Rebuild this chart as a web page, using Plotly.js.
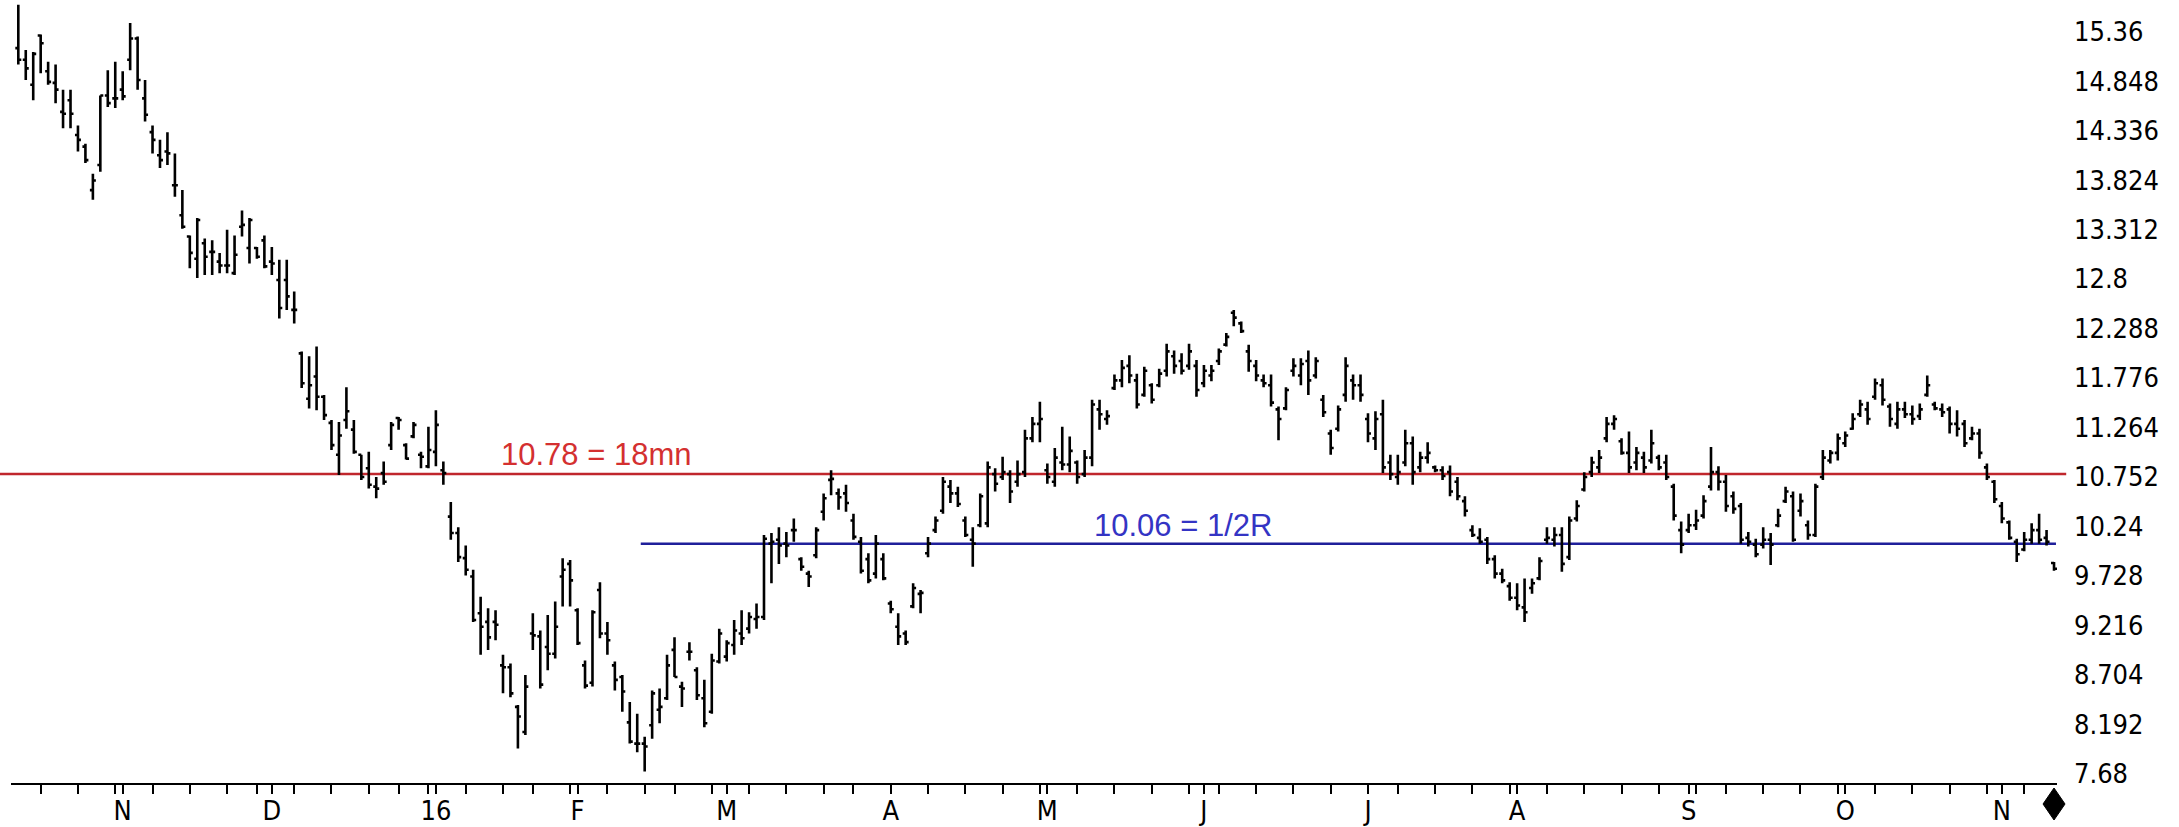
<!DOCTYPE html>
<html><head><meta charset="utf-8">
<script src="https://cdn.plot.ly/plotly-3.0.1.min.js"></script>
<style>html,body{margin:0;padding:0;background:#fff}#chart{width:2179px;height:827px}</style>
</head><body><div id="chart"></div>
<script>
// ---- data ----
const startDate = '2015-10-13';
const holidays = ['2015-11-26','2015-12-25','2016-01-01','2016-01-18','2016-02-15','2016-03-25','2016-05-30','2016-07-04','2016-09-05'];
const monthLabels = ['N','D','16','F','M','A','M','J','J','A','S','O','N'];
const priceTicks = ['7.68','8.192','8.704','9.216','9.728','10.24','10.752','11.264','11.776','12.288','12.8','13.312','13.824','14.336','14.848','15.36'];

const openP = [
15.19,15.07,14.81,15.32,14.95,14.83,14.53,14.65,14.29,14.17,13.72,13.98,14.70,14.67,14.76,15.07,15.29,14.67,14.32,14.08,
14.12,13.77,13.46,13.24,13.01,13.17,13.08,12.98,12.94,12.86,13.34,13.12,13.12,13.20,12.98,12.79,12.79,12.48,
12.03,11.56,11.79,11.58,11.31,10.98,11.34,11.24,10.98,10.84,10.65,10.79,11.08,11.36,11.08,11.17,10.98,10.86,11.01,10.82,
10.34,10.17,9.91,9.72,9.34,9.25,9.25,8.80,8.78,8.37,8.11,9.13,9.10,8.99,8.92,9.72,9.85,9.37,8.80,8.62,
9.58,9.13,8.80,8.68,8.21,7.99,7.99,8.18,8.34,8.46,8.96,8.58,8.94,8.75,8.46,8.32,8.84,8.89,9.01,9.13,
9.18,9.28,9.30,10.06,10.10,10.06,10.20,
9.90,9.75,9.94,10.39,10.72,10.58,10.58,10.30,10.08,9.90,9.75,9.90,9.44,9.20,9.13,9.41,9.54,9.96,10.20,10.40,
10.65,10.58,10.30,10.10,10.25,10.27,10.78,10.75,10.78,10.70,10.80,11.15,11.30,10.82,10.70,10.90,10.88,10.90,10.78,10.95,
11.45,11.35,11.67,11.75,11.90,11.75,11.60,11.70,11.70,11.85,12.00,11.95,11.90,11.90,11.72,
11.80,11.95,12.12,12.45,12.34,12.05,11.90,11.75,11.70,11.45,11.46,11.85,11.80,11.95,11.80,11.55,11.20,11.25,11.60,11.75,
11.70,11.35,11.15,11.40,10.90,10.75,10.90,11.10,10.85,10.95,10.85,10.82,10.80,10.70,10.50,10.20,10.12,10.10,9.90,9.75,
9.62,9.50,9.40,9.60,9.70,10.10,10.10,10.15,9.92,10.32,10.62,10.80,10.85,
11.15,11.30,11.12,11.00,10.90,10.95,10.92,10.95,10.90,10.65,10.20,10.20,10.25,10.35,10.65,10.80,10.70,10.55,10.45,10.12,
10.05,10.05,10.10,10.25,10.50,10.55,10.40,10.25,10.15,10.75,10.92,11.00,11.10,11.25,11.40,11.45,11.58,11.70,11.48,11.30,
11.45,11.40,11.38,11.60,11.50,11.45,11.45,11.30,11.30,11.15,11.20,10.85,10.70,10.45,10.28,10.08,10.00,10.10,10.20,10.12,
9.86];
const highP = [
15.64,15.17,15.15,15.33,15.05,15.02,14.76,14.76,14.39,14.20,13.89,14.70,14.96,15.05,14.95,15.45,15.31,14.86,14.39,14.24,
14.32,14.10,13.72,13.25,13.43,13.22,13.20,13.07,13.31,13.25,13.51,13.43,13.13,13.25,13.13,13.00,13.00,12.67,
12.05,12.00,12.10,11.60,11.34,11.32,11.68,11.34,10.98,11.01,10.75,10.91,11.32,11.37,11.10,11.32,11.01,11.27,11.44,10.91,
10.49,10.23,10.04,9.79,9.51,9.39,9.37,8.91,8.82,8.39,8.70,9.34,9.16,9.32,9.46,9.91,9.89,9.39,8.85,9.37,
9.66,9.25,8.84,8.70,8.42,8.30,8.06,8.54,8.56,8.91,9.09,8.63,9.04,8.78,8.65,8.92,9.18,9.06,9.27,9.37,
9.35,9.44,10.15,10.17,10.23,10.18,10.32,
9.92,9.78,10.23,10.58,10.82,10.63,10.67,10.37,10.13,9.96,10.15,9.96,9.47,9.34,9.16,9.65,9.58,10.13,10.34,10.75,
10.72,10.65,10.34,10.23,10.58,10.91,10.84,10.96,10.82,10.92,11.24,11.37,11.53,10.89,11.05,11.27,11.17,10.92,11.03,11.55,
11.55,11.44,11.81,11.96,12.01,11.82,11.89,11.72,11.87,12.13,12.06,12.03,12.13,11.96,11.91,
11.91,12.08,12.24,12.48,12.36,12.12,11.96,11.81,11.81,11.48,11.68,11.98,11.98,12.06,11.99,11.60,11.24,11.49,11.99,11.81,
11.81,11.41,11.43,11.55,10.98,10.98,11.24,11.17,11.01,11.11,10.87,10.86,10.87,10.75,10.55,10.25,10.22,10.13,9.94,9.80,
9.66,9.65,9.70,9.70,9.92,10.23,10.23,10.23,10.34,10.51,10.80,10.96,11.03,
11.37,11.39,11.15,11.22,11.06,11.01,11.24,10.98,10.98,10.68,10.29,10.37,10.41,10.56,11.06,10.86,10.77,10.60,10.48,10.18,
10.11,10.23,10.17,10.42,10.65,10.60,10.58,10.30,10.68,11.03,11.03,11.20,11.22,11.41,11.55,11.53,11.77,11.77,11.51,11.53,
11.53,11.49,11.51,11.80,11.53,11.51,11.48,11.44,11.34,11.27,11.25,10.89,10.72,10.49,10.30,10.11,10.18,10.27,10.37,10.20,
9.87];
const lowP = [
15.02,14.86,14.65,14.93,14.81,14.62,14.36,14.36,14.12,14.00,13.62,13.91,14.58,14.57,14.65,14.96,14.76,14.43,14.10,13.95,
13.98,13.65,13.32,12.91,12.81,12.84,12.84,12.86,12.86,12.84,13.24,12.96,13.01,12.91,12.84,12.39,12.48,12.34,
11.67,11.46,11.44,11.34,11.03,10.77,11.25,10.99,10.72,10.63,10.53,10.67,11.03,11.24,10.93,11.15,10.84,10.84,10.86,10.67,
10.10,9.87,9.73,9.25,8.91,8.96,9.06,8.51,8.47,7.94,8.08,8.96,8.56,8.75,8.87,9.41,9.41,9.01,8.56,8.58,
9.08,8.91,8.54,8.32,7.99,7.90,7.70,8.04,8.20,8.44,8.68,8.37,8.85,8.44,8.16,8.30,8.82,8.84,8.91,9.01,
9.13,9.18,9.27,9.65,9.85,9.92,10.08,
9.78,9.61,9.91,10.30,10.56,10.41,10.39,10.10,9.75,9.65,9.70,9.68,9.34,9.01,9.01,9.39,9.34,9.92,10.17,10.37,
10.48,10.44,10.13,9.82,10.23,10.23,10.60,10.72,10.48,10.65,10.75,11.11,11.11,10.68,10.65,10.82,10.80,10.68,10.75,10.86,
11.24,11.29,11.65,11.68,11.72,11.46,11.58,11.51,11.68,11.79,11.82,11.81,11.86,11.58,11.68,
11.74,11.91,12.10,12.31,12.24,11.84,11.74,11.68,11.48,11.13,11.44,11.79,11.70,11.60,11.77,11.37,10.98,11.22,11.53,11.55,
11.53,11.11,11.03,10.79,10.72,10.67,10.86,10.67,10.80,10.89,10.80,10.72,10.55,10.51,10.34,10.13,10.06,9.85,9.70,9.65,
9.47,9.37,9.25,9.54,9.68,10.06,10.03,9.77,9.89,10.29,10.60,10.75,10.79,
11.11,11.24,10.98,10.79,10.82,10.79,10.89,10.82,10.72,10.30,9.96,10.17,10.20,10.32,10.61,10.61,10.39,10.37,10.06,10.03,
9.92,10.01,9.84,10.23,10.48,10.08,10.34,10.10,10.13,10.72,10.89,10.92,11.06,11.24,11.37,11.29,11.55,11.49,11.27,11.25,
11.36,11.29,11.34,11.58,11.44,11.37,11.20,11.17,11.06,11.13,10.94,10.72,10.48,10.27,10.10,9.87,9.98,10.06,10.06,10.04,
9.78];
const closeP = [
15.07,14.98,15.13,15.24,14.84,14.76,14.51,14.51,14.24,14.03,13.82,14.70,14.62,14.67,14.69,15.29,14.86,14.50,14.24,14.03,
14.10,13.77,13.34,13.07,13.41,13.03,13.08,12.94,12.94,13.05,13.36,13.41,13.03,12.93,12.96,12.50,12.62,12.48,
11.72,11.70,11.58,11.39,11.08,11.18,11.43,11.01,10.75,10.67,10.63,10.70,11.29,11.34,10.94,11.29,10.96,11.03,11.29,10.79,
10.17,9.92,9.79,9.27,9.20,9.09,9.22,8.78,8.51,8.27,8.58,9.11,8.60,8.92,9.20,9.79,9.68,9.03,8.59,9.35,
9.13,9.06,8.65,8.53,8.01,7.99,7.96,8.51,8.37,8.80,8.68,8.56,8.94,8.49,8.20,8.85,9.13,9.03,9.16,9.08,
9.30,9.30,10.11,10.08,10.04,10.04,10.20,
9.82,9.72,10.20,10.53,10.73,10.54,10.48,10.13,9.78,9.68,10.06,9.70,9.38,9.10,9.04,9.60,9.55,10.06,10.30,10.70,
10.58,10.47,10.15,10.06,10.55,10.85,10.68,10.80,10.60,10.78,11.15,11.30,11.35,10.75,10.95,10.88,11.02,10.75,10.95,11.50,
11.40,11.38,11.75,11.88,11.80,11.50,11.85,11.55,11.82,12.05,11.90,11.85,12.05,11.65,11.85,
11.85,12.05,12.20,12.40,12.26,11.95,11.80,11.72,11.52,11.35,11.65,11.90,11.92,11.75,11.95,11.42,11.05,11.45,11.90,11.70,
11.60,11.20,11.35,10.85,10.78,10.80,11.10,10.80,10.95,11.00,10.82,10.76,10.60,10.55,10.40,10.15,10.08,9.90,9.75,9.68,
9.50,9.42,9.35,9.65,9.88,10.12,10.15,9.85,10.30,10.45,10.75,10.90,10.95,
11.30,11.35,11.00,10.85,11.00,10.85,11.10,10.85,10.75,10.35,10.05,10.25,10.30,10.50,10.80,10.70,10.45,10.42,10.10,10.08,
9.95,10.10,10.05,10.35,10.60,10.10,10.50,10.15,10.65,10.95,11.00,11.15,11.18,11.35,11.50,11.35,11.72,11.55,11.35,11.45,
11.40,11.35,11.45,11.70,11.46,11.42,11.30,11.25,11.10,11.20,11.00,10.75,10.52,10.32,10.12,9.95,10.10,10.20,10.10,10.08,
9.80];

const redLevel = 10.78, redLabel = '10.78 = 18mn';
const blueLevel = 10.06, blueLabel = '10.06 = 1/2R';

// ---- derived (calendar) ----
function tradingDates(start, n) {
  const out = []; const d = new Date(start + 'T00:00:00Z');
  while (out.length < n) {
    const dow = d.getUTCDay(); const s = d.toISOString().slice(0, 10);
    if (dow !== 0 && dow !== 6 && holidays.indexOf(s) < 0) out.push(s);
    d.setUTCDate(d.getUTCDate() + 1);
  }
  return out;
}
const N = openP.length;
const dates = tradingDates(startDate, N);
const xs = dates.map((_, i) => i);
const monthIdx = [];
for (let i = 1; i < N; i++) if (dates[i].slice(5, 7) !== dates[i - 1].slice(5, 7)) monthIdx.push(i);
const weekIdx = [];
for (let i = 0; i < N - 1; i++) {
  const a = new Date(dates[i] + 'T00:00:00Z'), b = new Date(dates[i + 1] + 'T00:00:00Z');
  if (b.getUTCDay() <= a.getUTCDay() || (b - a) > 6 * 864e5) weekIdx.push(i);
}
const tickMap = new Map();
weekIdx.forEach(i => tickMap.set(i, ''));
monthIdx.forEach((i, j) => tickMap.set(i, monthLabels[j] || ''));
const xTickVals = Array.from(tickMap.keys()).sort((a, b) => a - b);
const xTickText = xTickVals.map(v => tickMap.get(v));

const xRange = [-0.98, N - 1 + 0.4];
const lastPaperX = (N - 1 - xRange[0]) / (xRange[1] - xRange[0]);

const narrow = '"Liberation Sans Narrow", "Arial Narrow", "DejaVu Sans Condensed", "Liberation Sans", sans-serif';

const trace = {
  type: 'ohlc', x: xs, open: openP, high: highP, low: lowP, close: closeP,
  increasing: {line: {color: '#000', width: 2.6}},
  decreasing: {line: {color: '#000', width: 2.6}},
  line: {width: 2.6}, tickwidth: 0.4, hoverinfo: 'skip', showlegend: false
};

const layout = {
  width: 2179, height: 827,
  margin: {l: 11, r: 122, t: 0, b: 44, pad: 0},
  paper_bgcolor: '#fff', plot_bgcolor: '#fff',
  showlegend: false, dragmode: false,
  xaxis: {
    type: 'linear', range: xRange, rangeslider: {visible: false},
    showgrid: false, zeroline: false,
    showline: true, linecolor: '#000', linewidth: 2,
    tickmode: 'array', tickvals: xTickVals, ticktext: xTickText,
    ticks: 'outside', ticklen: 9, tickwidth: 2, tickcolor: '#000',
    ticklabelstandoff: -6,
    tickfont: {family: narrow, size: 27, color: '#000'}
  },
  yaxis: {
    side: 'right', range: [7.582, 15.688],
    showgrid: false, zeroline: false, showline: false,
    tickmode: 'array', tickvals: priceTicks.map(Number), ticktext: priceTicks,
    ticks: '', ticklabelstandoff: 16,
    tickfont: {family: narrow, size: 27, color: '#000'}
  },
  shapes: [
    {type: 'line', layer: 'below', xref: 'paper', yref: 'y', x0: -0.006, x1: 1.0045, y0: redLevel, y1: redLevel,
     line: {color: '#c0262c', width: 2.5}},
    {type: 'line', layer: 'below', xref: 'paper', yref: 'y', x0: 0.3078, x1: 0.9995, y0: blueLevel, y1: blueLevel,
     line: {color: '#1f1f9a', width: 2.5}},
    {type: 'path', layer: 'above', xref: 'paper', yref: 'paper', xsizemode: 'pixel', ysizemode: 'pixel',
     xanchor: lastPaperX, yanchor: 0, path: 'M0,-5 L11,-21 L0,-37 L-11,-21 Z',
     fillcolor: '#000', line: {color: '#000', width: 1}}
  ],
  annotations: [
    {xref: 'paper', yref: 'y', x: 0.2858, y: 10.986, text: redLabel, showarrow: false,
     xanchor: 'center', yanchor: 'middle', font: {family: 'Liberation Sans, Arial, sans-serif', size: 31, color: '#d43030'}},
    {xref: 'paper', yref: 'y', x: 0.5726, y: 10.251, text: blueLabel, showarrow: false,
     xanchor: 'center', yanchor: 'middle', font: {family: 'Liberation Sans, Arial, sans-serif', size: 31, color: '#3434c4'}}
  ]
};

Plotly.newPlot('chart', [trace], layout, {staticPlot: true, displayModeBar: false});
</script>
</body></html>
